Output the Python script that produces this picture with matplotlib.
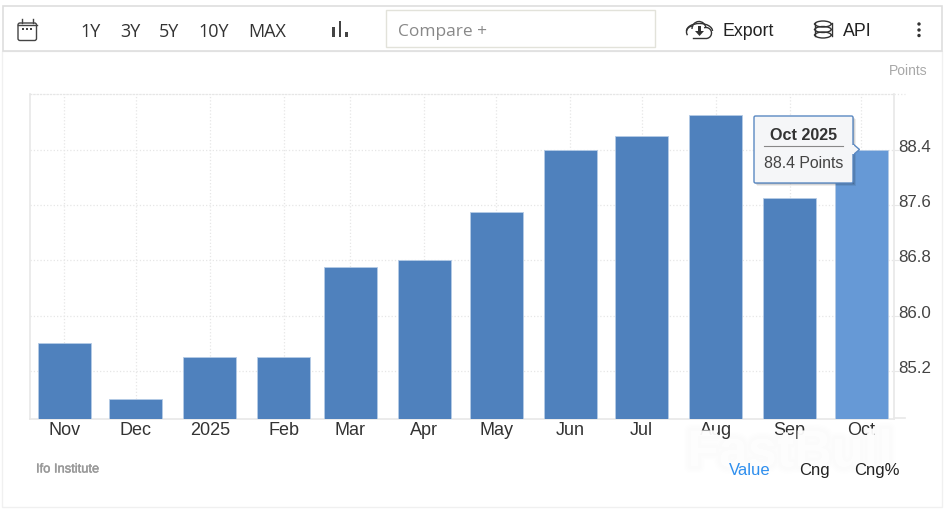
import matplotlib
matplotlib.use('Agg')
import matplotlib.pyplot as plt
import matplotlib.dates as mdates
import matplotlib.patheffects as pe
import matplotlib.transforms as mtrans
from matplotlib.patches import Rectangle, FancyBboxPatch, Polygon, Circle, Arc
import pandas as pd

months = ['2024-11-01', '2024-12-01', '2025-01-01', '2025-02-01', '2025-03-01', '2025-04-01',
          '2025-05-01', '2025-06-01', '2025-07-01', '2025-08-01', '2025-09-01', '2025-10-01']
values = [85.6, 84.8, 85.4, 85.4, 86.7, 86.8, 87.5, 88.4, 88.6, 88.9, 87.7, 88.4]
x_labels = ['Nov', 'Dec', '2025', 'Feb', 'Mar', 'Apr', 'May', 'Jun', 'Jul', 'Aug', 'Sep', 'Oct']
y_ticks = [85.2, 86.0, 86.8, 87.6, 88.4]
ranges = ['1Y', '3Y', '5Y', '10Y', 'MAX']
range_x = [91, 130, 169, 214, 267]

W, H = 947, 511
plt.rcParams['font.family'] = ['Liberation Sans', 'DejaVu Sans']
fig = plt.figure(figsize=(W / 100, H / 100), dpi=100, facecolor='white')

###: page layer in pixel coords, behind and in front of the chart
bg = fig.add_axes([0, 0, 1, 1], zorder=0)
bg.set_xlim(0, W)
bg.set_ylim(H, 0)
bg.axis('off')
top = fig.add_axes([0, 0, 1, 1], zorder=5)
top.set_xlim(0, W)
top.set_ylim(H, 0)
top.axis('off')

bg.add_patch(Rectangle((2, 51), 939.5, 456, fc='white', ec='#f0f0f0', lw=1))
bg.add_patch(Rectangle((3, 6.5), 938.5, 45, fc='white', ec='#dedede', lw=1.2))
bg.add_patch(Rectangle((386, 10.5), 268.5, 37, fc='white', ec='#e2e2da', lw=1))

for label, x in zip(ranges, range_x):
    bg.text(x, 32, label, ha='center', va='center', fontsize=13, color='#333333',
            family=['Open Sans', 'DejaVu Sans'])
bg.text(398, 32.5, 'Compare +', ha='left', va='center', fontsize=12.5, color='#888888',
        family=['Open Sans', 'DejaVu Sans'])
bg.text(723, 31, 'Export', ha='left', va='center', fontsize=12.8, color='#222222')
bg.text(843, 31, 'API', ha='left', va='center', fontsize=12.8, color='#222222')
bg.text(927, 71, 'Points', ha='right', va='center', fontsize=10, color='#a8a8a8')
bg.text(36, 469.5, 'Ifo Institute', ha='left', va='center', fontsize=9.3, color='#999999',
        path_effects=[pe.withStroke(linewidth=0.3, foreground='#999999')])

###: toolbar icons
dark = '#444444'
bg.add_patch(FancyBboxPatch((18, 23), 18.5, 17.5, boxstyle='round,pad=0,rounding_size=2', fc='none', ec=dark, lw=1))
bg.plot([18, 36.5], [25.5, 25.5], color=dark, lw=1)
bg.plot([21.5, 21.5], [19.5, 23], color=dark, lw=1)
bg.plot([33, 33], [19.5, 23], color=dark, lw=1)
for x in [23, 27, 31]:
    bg.add_patch(Rectangle((x - 0.7, 28.5), 1.4, 1.4, fc=dark, ec='none'))
for x, y0 in [(333.5, 27), (340, 21), (346.5, 32)]:
    bg.add_patch(Rectangle((x - 1.2, y0), 2.4, 37 - y0, fc=dark, ec='none'))

cloud = '#333333'
bg.add_patch(Arc((699.5, 31), 26, 15, theta1=180, theta2=360, color=cloud, lw=1))
bg.add_patch(Arc((693, 32), 13, 12, theta1=150, theta2=270, color=cloud, lw=1))
bg.add_patch(Arc((699, 29), 14, 15, theta1=180, theta2=350, color=cloud, lw=1))
bg.add_patch(Arc((706, 33), 11, 11, theta1=250, theta2=80, color=cloud, lw=1))
bg.plot([693, 706], [38.5, 38.5], color=cloud, lw=1)
bg.add_patch(Polygon([[695, 31], [704, 31], [699.5, 36]], fc=cloud, ec='none'))
bg.add_patch(Rectangle((698, 26), 3, 6, fc=cloud, ec='none'))

for y in [23.5, 29, 34.5]:
    bg.add_patch(Arc((823, y), 17, 7, theta1=0, theta2=180, color=cloud, lw=1))
    bg.add_patch(Arc((823, y + 1), 17, 7, theta1=180, theta2=360, color=cloud, lw=1))
bg.plot([814.5, 814.5], [23.5, 36], color=cloud, lw=1)
bg.plot([831.5, 831.5], [23.5, 36], color=cloud, lw=1)
for y in [24, 30, 35.5]:
    bg.add_patch(Circle((919, y), 1.7, fc='#333333', ec='none'))

###: chart
left, right, ax_top, bottom = 30, 894, 94, 418.5
ax = fig.add_axes([left / W, 1 - bottom / H, (right - left) / W, (bottom - ax_top) / H], zorder=2)
ax.patch.set_alpha(0)

dates = pd.to_datetime(months)
nums = mdates.date2num(dates)
colors = ['#4f81bd'] * 11 + ['#6699d6']
ax.bar(dates, values, width=22.2, color=colors, edgecolor='#b5cbe6', linewidth=0.6, zorder=3)

ax.set_xlim(nums[0] - 14.3, nums[0] + 347.76)
ax.set_ylim(84.515, 89.205)
ax.set_xticks(nums)
ax.set_xticklabels(x_labels)
ax.set_yticks(y_ticks)
ax.yaxis.tick_right()
ax.grid(True, linestyle=':', color='#e6e6e6', linewidth=0.9, zorder=0)
ax.set_axisbelow(True)
ax.tick_params(axis='x', length=0, pad=2.5, labelsize=13, labelcolor='#333333')
ax.tick_params(axis='y', length=11, width=0.8, color='#e8e8e8', pad=-8, labelsize=12.2, labelcolor='#444444')
for lab in ax.get_yticklabels():
    lab.set_transform(lab.get_transform() + mtrans.ScaledTranslation(0, 4 / 100, fig.dpi_scale_trans))

for side in ['left', 'right', 'bottom']:
    ax.spines[side].set_color('#e8e8e8')
    ax.spines[side].set_linewidth(1.2)
ax.spines['top'].set_color('#e6e6e6')
ax.spines['top'].set_linestyle(':')
ax.spines['top'].set_linewidth(0.9)
bg.plot([894, 905], [418.5, 418.5], color='#e8e8e8', lw=1.2)
bg.plot([894, 905], [94, 94], color='#e6e6e6', lw=0.9, ls=':')

###: tooltip
for off, a in [(3, 0.07), (2, 0.1), (1, 0.14)]:
    top.add_patch(Rectangle((754 + off, 116 + off), 99, 67, fc='black', ec='none', alpha=a))
top.add_patch(Polygon([[853, 144], [859.5, 149.5], [853, 155]], fc='#f5f6f8', ec='#5b89c2', lw=1))
top.add_patch(FancyBboxPatch((754, 116), 99, 67, boxstyle='round,pad=0,rounding_size=1.5',
                             fc='#f5f6f8', ec='#5b89c2', lw=1))
top.add_patch(Rectangle((852, 145), 2, 9, fc='#f5f6f8', ec='none'))
top.text(803.5, 135, 'Oct 2025', ha='center', va='center', fontsize=11.6, fontweight='bold', color='#333333')
top.plot([764, 843], [146.5, 146.5], color='#888888', lw=0.8)
top.text(803.5, 164, '88.4 Points', ha='center', va='center', fontsize=11.4, color='#444444')

###: watermark, the Value / Cng / Cng% row sits on top of it
glow = [pe.withStroke(linewidth=w, foreground='black', alpha=0.005) for w in [10, 8, 6, 4]]
top.text(790, 453, 'FastBull', ha='center', va='center', fontsize=37.5, fontweight='bold',
         color='white', alpha=0.45, path_effects=glow + [pe.Normal()], zorder=6)
top.text(771, 470.5, 'Value', ha='right', va='center', fontsize=12, color='#2f8fee', zorder=7)
top.text(799, 470.5, 'Cng', ha='left', va='center', fontsize=12, color='#222222', zorder=7)
top.text(900, 470.5, 'Cng%', ha='right', va='center', fontsize=12, color='#222222', zorder=7)

fig.savefig('out.png', dpi=100)
